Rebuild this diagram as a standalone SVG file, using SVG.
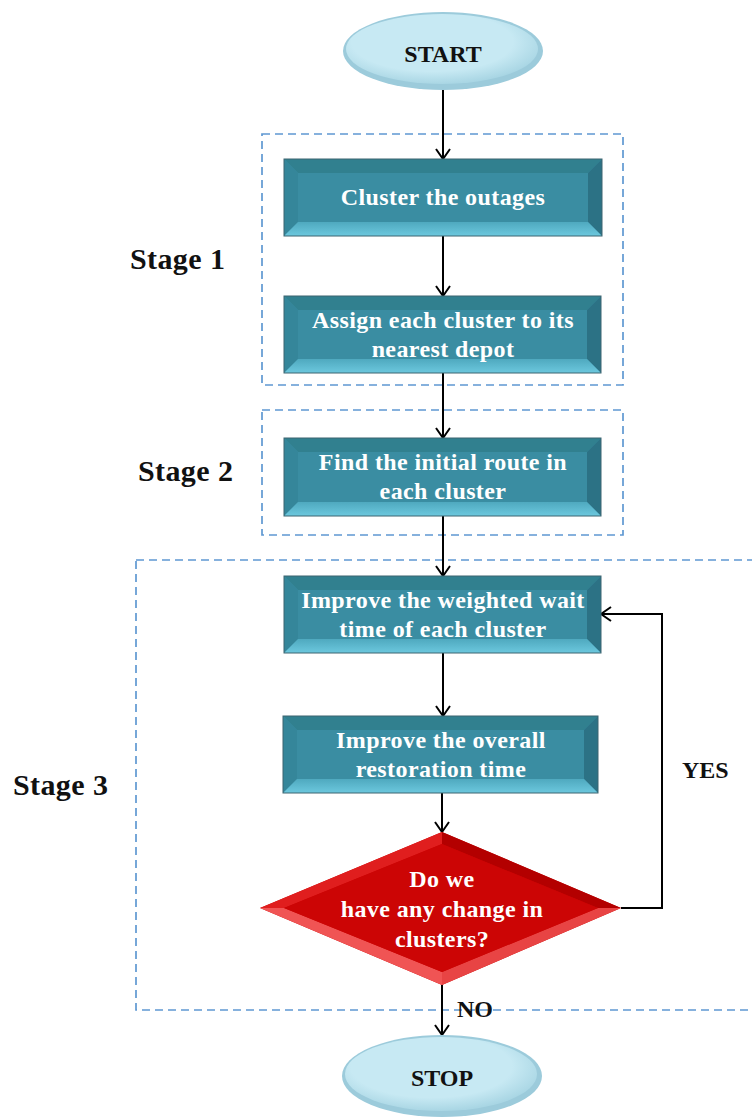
<svg xmlns="http://www.w3.org/2000/svg" width="752" height="1120" viewBox="0 0 752 1120">
  <defs>
    <style>
      .stage-frame { fill: none; stroke: #5f98d2; stroke-width: 1.7; stroke-dasharray: 8 5; }
      .stage-label { font-family: "Liberation Serif", "Times New Roman", serif; font-weight: bold; font-size: 30px; fill: #111; letter-spacing: 0.4px; }
      .box-text { font-family: "Liberation Serif", "Times New Roman", serif; font-weight: bold; font-size: 24px; fill: #fff; text-anchor: middle; letter-spacing: 0.4px; }
      .term-text { font-family: "Liberation Serif", "Times New Roman", serif; font-weight: bold; font-size: 24px; fill: #111; text-anchor: middle; }
      .edge-label { font-family: "Liberation Serif", "Times New Roman", serif; font-weight: bold; font-size: 24px; fill: #111; }
      .face { fill: #3a8da2; }
      .bev-top { fill: #31808f; }
      .bev-left { fill: #35869a; }
      .bev-right { fill: #2c7285; }
      .bev-bottom { fill: url(#bevBottom); }
      .box-edge { fill: none; stroke: #3d6470; stroke-width: 1; }
      .conn { fill: none; stroke: #000; stroke-width: 2; }
    </style>
    <linearGradient id="bevBottom" x1="0" y1="0" x2="0" y2="1">
      <stop offset="0" stop-color="#4fa9bf"/>
      <stop offset="1" stop-color="#6cc8de"/>
    </linearGradient>
    <radialGradient id="termFill" cx="0.45" cy="0.4" r="0.6">
      <stop offset="0.7" stop-color="#c7e9f3"/>
      <stop offset="1" stop-color="#a9d6e4"/>
    </radialGradient>
    <marker id="arrow" markerUnits="userSpaceOnUse" markerWidth="20" markerHeight="20" refX="11" refY="8" orient="auto">
      <path d="M1,1 L11,8 L1,15" fill="none" stroke="#000" stroke-width="2"/>
    </marker>
  </defs>

  <rect width="752" height="1120" fill="#fff"/>

  <!-- stage frames -->
  <g id="stages">
    <rect class="stage-frame" x="262" y="134" width="361" height="251"/>
    <rect class="stage-frame" x="262" y="410" width="361" height="125"/>
    <rect class="stage-frame" x="136" y="560" width="640" height="450"/>
    <text class="stage-label" x="130" y="269">Stage 1</text>
    <text class="stage-label" x="138" y="481">Stage 2</text>
    <text class="stage-label" x="13" y="795">Stage 3</text>
  </g>

  <!-- connectors -->
  <g id="connectors">
    <line class="conn" x1="443" y1="90" x2="443" y2="159" marker-end="url(#arrow)"/>
    <line class="conn" x1="443" y1="236" x2="443" y2="296" marker-end="url(#arrow)"/>
    <line class="conn" x1="443" y1="373" x2="443" y2="438" marker-end="url(#arrow)"/>
    <line class="conn" x1="443" y1="516" x2="443" y2="576" marker-end="url(#arrow)"/>
    <line class="conn" x1="443" y1="653" x2="443" y2="716" marker-end="url(#arrow)"/>
    <line class="conn" x1="442" y1="793" x2="442" y2="832" marker-end="url(#arrow)"/>
    <line class="conn" x1="442" y1="985" x2="442" y2="1035" marker-end="url(#arrow)"/>
    <polyline class="conn" points="621,908 662,908 662,614 601,614" marker-end="url(#arrow)"/>
    <text class="edge-label" x="682" y="778">YES</text>
    <text class="edge-label" x="457" y="1017">NO</text>
  </g>

  <!-- START -->
  <g id="start">
    <ellipse cx="443" cy="51" rx="100" ry="39" fill="#9ccbdb"/>
    <ellipse cx="442" cy="49" rx="96" ry="35" fill="url(#termFill)"/>
    <text class="term-text" x="443" y="62">START</text>
  </g>

  <!-- process boxes -->
  <g id="cluster-outages">
    <rect class="face" x="284" y="159" width="318" height="77"/>
    <polygon class="bev-top" points="284,159 602,159 588,173 298,173"/>
    <polygon class="bev-left" points="284,159 298,173 298,222 284,236"/>
    <polygon class="bev-right" points="602,159 602,236 588,222 588,173"/>
    <polygon class="bev-bottom" points="284,236 298,222 588,222 602,236"/>
    <rect class="box-edge" x="284" y="159" width="318" height="77"/>
    <text class="box-text" x="443" y="205">Cluster the outages</text>
  </g>

  <g id="assign-depot">
    <rect class="face" x="284" y="296" width="317" height="77"/>
    <polygon class="bev-top" points="284,296 601,296 587,310 298,310"/>
    <polygon class="bev-left" points="284,296 298,310 298,359 284,373"/>
    <polygon class="bev-right" points="601,296 601,373 587,359 587,310"/>
    <polygon class="bev-bottom" points="284,373 298,359 587,359 601,373"/>
    <rect class="box-edge" x="284" y="296" width="317" height="77"/>
    <text class="box-text" x="443" y="328">Assign each cluster to its</text>
    <text class="box-text" x="443" y="357">nearest depot</text>
  </g>

  <g id="initial-route">
    <rect class="face" x="284" y="438" width="317" height="78"/>
    <polygon class="bev-top" points="284,438 601,438 587,452 298,452"/>
    <polygon class="bev-left" points="284,438 298,452 298,502 284,516"/>
    <polygon class="bev-right" points="601,438 601,516 587,502 587,452"/>
    <polygon class="bev-bottom" points="284,516 298,502 587,502 601,516"/>
    <rect class="box-edge" x="284" y="438" width="317" height="78"/>
    <text class="box-text" x="443" y="470">Find the initial route in</text>
    <text class="box-text" x="443" y="499">each cluster</text>
  </g>

  <g id="improve-wait">
    <rect class="face" x="284" y="576" width="317" height="77"/>
    <polygon class="bev-top" points="284,576 601,576 587,590 298,590"/>
    <polygon class="bev-left" points="284,576 298,590 298,639 284,653"/>
    <polygon class="bev-right" points="601,576 601,653 587,639 587,590"/>
    <polygon class="bev-bottom" points="284,653 298,639 587,639 601,653"/>
    <rect class="box-edge" x="284" y="576" width="317" height="77"/>
    <text class="box-text" x="443" y="608">Improve the weighted wait</text>
    <text class="box-text" x="443" y="637">time of each cluster</text>
  </g>

  <g id="improve-overall">
    <rect class="face" x="283" y="716" width="315" height="77"/>
    <polygon class="bev-top" points="283,716 598,716 584,730 297,730"/>
    <polygon class="bev-left" points="283,716 297,730 297,779 283,793"/>
    <polygon class="bev-right" points="598,716 598,793 584,779 584,730"/>
    <polygon class="bev-bottom" points="283,793 297,779 584,779 598,793"/>
    <rect class="box-edge" x="283" y="716" width="315" height="77"/>
    <text class="box-text" x="441" y="748">Improve the overall</text>
    <text class="box-text" x="441" y="777">restoration time</text>
  </g>

  <!-- decision -->
  <g id="decision">
    <polygon fill="#cc0505" points="442,832 621,908 442,985 260,908"/>
    <polygon fill="#b30000" points="442,832 621,908 598,908 442,844"/>
    <polygon fill="#e01e1e" points="442,832 442,844 284,908 260,908"/>
    <polygon fill="#e84444" points="621,908 442,985 442,972 598,908"/>
    <polygon fill="#f05454" points="260,908 284,908 442,972 442,985"/>
    <polygon fill="#cc0505" points="442,844 598,908 442,972 284,908"/>
    <text class="box-text" x="442" y="887">Do we</text>
    <text class="box-text" x="442" y="917">have any change in</text>
    <text class="box-text" x="442" y="947">clusters?</text>
  </g>

  <!-- STOP -->
  <g id="stop">
    <ellipse cx="442" cy="1076" rx="100" ry="41" fill="#9ccbdb"/>
    <ellipse cx="441" cy="1074" rx="96" ry="37" fill="url(#termFill)"/>
    <text class="term-text" x="442" y="1086">STOP</text>
  </g>
</svg>
